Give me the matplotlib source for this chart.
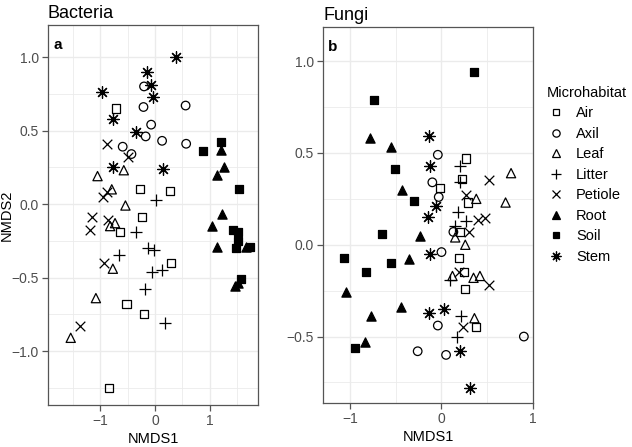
import matplotlib
matplotlib.use("Agg")
import matplotlib.pyplot as plt
from matplotlib.lines import Line2D
from matplotlib.ticker import FixedLocator

plt.rcParams['font.family'] = ['Liberation Sans', 'DejaVu Sans']

habitats = ['Air', 'Axil', 'Leaf', 'Litter', 'Petiole', 'Root', 'Soil', 'Stem']

# Bacteria NMDS scores
bac_x = {
    'Air': [-0.72, -0.27, 0.27, -0.23, -0.64, 0.29, -0.52, -0.20, -0.84],
    'Axil': [-0.20, -0.21, 0.56, -0.07, -0.17, 0.13, 0.57, -0.59, -0.43],
    'Leaf': [-0.57, -1.05, -0.79, -0.54, -0.73, -0.82, -0.77, -1.08, -1.54],
    'Litter': [0.01, -0.35, -0.12, -0.01, -0.66, -0.06, 0.12, -0.18, 0.18],
    'Petiole': [-0.88, -0.49, -0.95, -0.88, -1.15, -0.85, -1.19, -0.93, -1.37],
    'Root': [1.21, 1.26, 1.13, 1.23, 1.05, 1.13, 1.66, 1.46, 1.51],
    'Soil': [0.87, 1.21, 1.54, 1.43, 1.51, 1.51, 1.48, 1.74, 1.57],
    'Stem': [0.38, -0.15, -0.07, -0.04, -0.96, -0.76, -0.35, -0.76, 0.14],
}
bac_y = {
    'Air': [0.65, 0.10, 0.09, -0.09, -0.19, -0.40, -0.68, -0.75, -1.25],
    'Axil': [0.80, 0.66, 0.67, 0.54, 0.46, 0.43, 0.41, 0.39, 0.34],
    'Leaf': [0.23, 0.19, 0.10, -0.01, -0.13, -0.15, -0.44, -0.64, -0.91],
    'Litter': [0.03, -0.19, -0.30, -0.31, -0.35, -0.46, -0.45, -0.58, -0.81],
    'Petiole': [0.41, 0.32, 0.05, 0.08, -0.09, -0.11, -0.18, -0.40, -0.83],
    'Root': [0.37, 0.25, 0.20, -0.07, -0.15, -0.29, -0.29, -0.56, -0.54],
    'Soil': [0.36, 0.42, 0.10, -0.18, -0.19, -0.25, -0.30, -0.29, -0.51],
    'Stem': [1.00, 0.90, 0.81, 0.73, 0.76, 0.58, 0.49, 0.25, 0.24],
}

# Fungi NMDS scores
fun_x = {
    'Air': [0.27, 0.22, -0.02, 0.29, 0.20, 0.19, 0.25, 0.26, 0.38],
    'Axil': [-0.04, -0.10, -0.03, 0.13, 0.00, -0.04, -0.26, 0.05, 0.90],
    'Leaf': [0.76, 0.38, 0.70, 0.26, 0.15, 0.12, 0.35, 0.42, 0.36],
    'Litter': [0.20, 0.20, 0.18, 0.27, 0.145, 0.09, 0.21, 0.17],
    'Petiole': [0.27, 0.52, 0.40, 0.47, 0.30, 0.19, 0.52, 0.23],
    'Root': [-0.78, -0.55, -0.43, -0.24, -0.36, -1.04, -0.44, -0.77, -0.83],
    'Soil': [0.35, -0.74, -0.51, -0.30, -0.65, -1.07, -0.55, -0.82, -0.94],
    'Stem': [-0.14, -0.12, -0.06, -0.15, -0.13, -0.14, 0.03, 0.20, 0.31],
}
fun_y = {
    'Air': [0.47, 0.36, 0.31, 0.23, 0.07, -0.07, -0.15, -0.24, -0.45],
    'Axil': [0.49, 0.34, 0.26, 0.07, -0.04, -0.44, -0.58, -0.60, -0.50],
    'Leaf': [0.39, 0.25, 0.23, 0.00, 0.04, -0.17, -0.18, -0.17, -0.40],
    'Litter': [0.43, 0.34, 0.18, 0.13, 0.10, -0.19, -0.39, -0.50],
    'Petiole': [0.27, 0.35, 0.135, 0.145, 0.07, -0.15, -0.22, -0.45],
    'Root': [0.58, 0.53, 0.30, 0.05, -0.08, -0.26, -0.34, -0.39, -0.53],
    'Soil': [0.94, 0.79, 0.41, 0.24, 0.06, -0.07, -0.10, -0.15, -0.56],
    'Stem': [0.59, 0.43, 0.21, 0.15, -0.05, -0.37, -0.35, -0.58, -0.78],
}

# ggplot-like shapes: open square, open circle, open triangle, plus, x,
# filled triangle, filled square, asterisk
shapes = {
    'Air': ('s', False, 34),
    'Axil': ('o', False, 38),
    'Leaf': ('^', False, 44),
    'Litter': ('+', True, 70),
    'Petiole': ('x', True, 48),
    'Root': ('^', True, 44),
    'Soil': ('s', True, 30),
    'Stem': ((8, 2, 0), True, 70),
}

grid_col = '#ebebeb'
frame_col = '#555555'
tick_col = '#4d4d4d'


def draw(ax, xs, ys):
    for h in habitats:
        m, filled, s = shapes[h]
        if filled:
            ax.scatter(xs[h], ys[h], marker=m, s=s, c='black',
                       linewidths=0.9, zorder=3)
        else:
            ax.scatter(xs[h], ys[h], marker=m, s=s, facecolors='none',
                       edgecolors='black', linewidths=0.9, zorder=3)
    ax.grid(True, which='major', color=grid_col, lw=1.0, zorder=0)
    ax.grid(True, which='minor', color=grid_col, lw=0.6, zorder=0)
    ax.set_axisbelow(True)
    for sp in ax.spines.values():
        sp.set_color(frame_col)
        sp.set_linewidth(0.9)
    ax.tick_params(which='major', direction='out', length=4, width=0.9,
                   color=frame_col, labelcolor=tick_col, labelsize=10,
                   pad=2.5)
    ax.tick_params(which='minor', length=0)
    ax.set_xlabel('NMDS1', fontsize=10.5, labelpad=3)


fig = plt.figure(figsize=(6.32, 4.47), dpi=100)
ax1 = fig.add_axes([0.0759, 0.0940, 0.3323, 0.8501])
ax2 = fig.add_axes([0.5111, 0.0984, 0.3323, 0.8412])

draw(ax1, bac_x, bac_y)
ax1.set_xlim(-1.956, 1.883)
ax1.set_ylim(-1.367, 1.218)
ax1.xaxis.set_major_locator(FixedLocator([-1, 0, 1]))
ax1.xaxis.set_minor_locator(FixedLocator([-1.5, -0.5, 0.5, 1.5]))
ax1.yaxis.set_major_locator(FixedLocator([-1.0, -0.5, 0.0, 0.5, 1.0]))
ax1.yaxis.set_minor_locator(FixedLocator([-1.25, -0.75, -0.25, 0.25, 0.75]))
ax1.set_yticklabels(['\u22121.0', '\u22120.5', '0.0', '0.5', '1.0'])
ax1.set_xticklabels(['\u22121', '0', '1'])
ax1.set_ylabel('NMDS2', fontsize=10.5)
ax1.yaxis.set_label_coords(-0.165, 0.5)
ax1.set_title('Bacteria', loc='left', fontsize=13, pad=5)
ax1.text(0.025, 0.965, 'a', transform=ax1.transAxes, fontsize=11,
         fontweight='bold', va='top', ha='left')

draw(ax2, fun_x, fun_y)
ax2.set_xlim(-1.294, 1.0)
ax2.set_ylim(-0.862, 1.186)
ax2.xaxis.set_major_locator(FixedLocator([-1, 0, 1]))
ax2.xaxis.set_minor_locator(FixedLocator([-0.5, 0.5]))
ax2.yaxis.set_major_locator(FixedLocator([-0.5, 0.0, 0.5, 1.0]))
ax2.yaxis.set_minor_locator(FixedLocator([-0.75, -0.25, 0.25, 0.75]))
ax2.set_yticklabels(['\u22120.5', '0.0', '0.5', '1.0'])
ax2.set_xticklabels(['\u22121', '0', '1'])
ax2.set_title('Fungi', loc='left', fontsize=13, pad=5)
ax2.text(0.025, 0.965, 'b', transform=ax2.transAxes, fontsize=11,
         fontweight='bold', va='top', ha='left')

handles = []
for h in habitats:
    m, filled, s = shapes[h]
    handles.append(Line2D([], [], ls='none', marker=m, markersize=(s ** 0.5) * 0.85,
                          markerfacecolor='black' if filled else 'none',
                          markeredgecolor='black', markeredgewidth=0.9, label=h))
fig.legend(handles=handles, title='Microhabitat', loc='upper left',
           bbox_to_anchor=(0.854, 0.825), frameon=False, fontsize=10.5,
           title_fontsize=10.5, labelspacing=0.45, handletextpad=0.8,
           handlelength=1.2, alignment='left', borderpad=0)

fig.savefig('out.png', dpi=100)
